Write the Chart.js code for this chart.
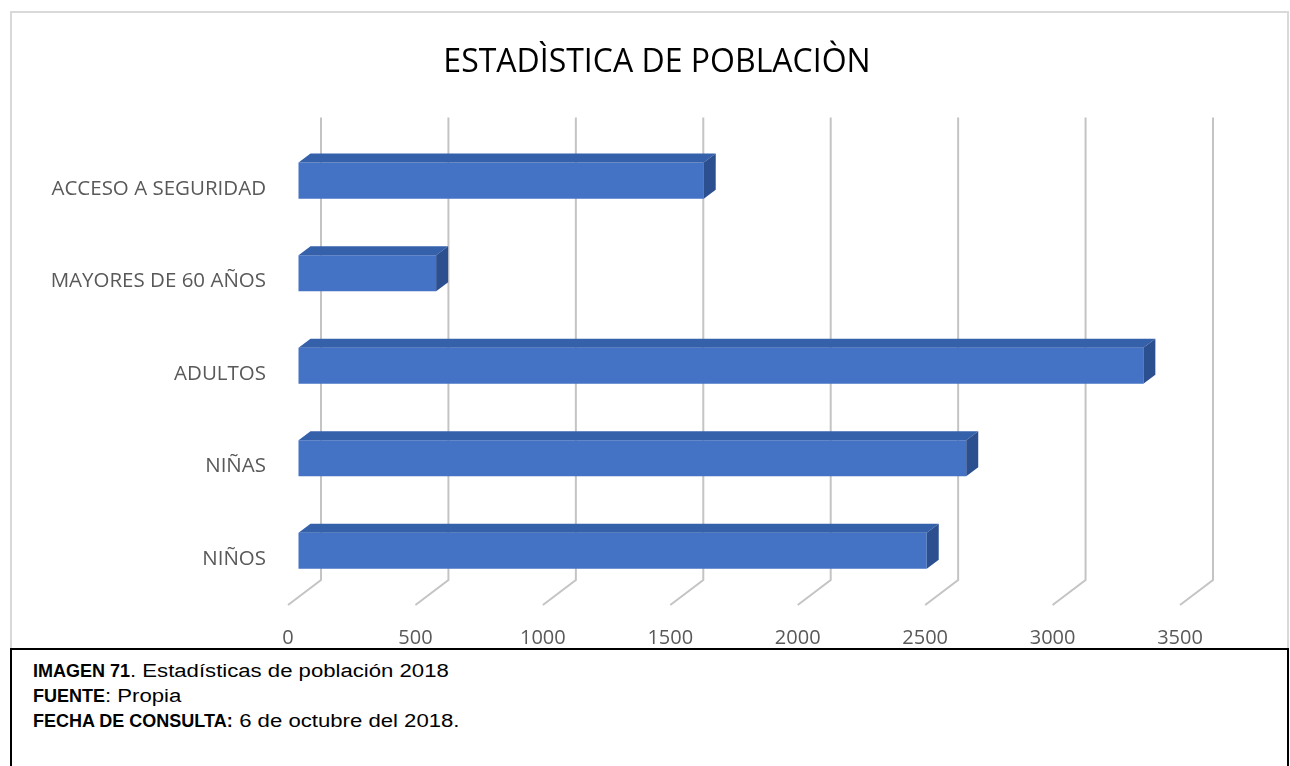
<!DOCTYPE html>
<html>
<head>
<meta charset="utf-8">
<title>Estadistica de poblacion</title>
<script src="https://cdn.jsdelivr.net/npm/chart.js@4.4.0/dist/chart.umd.min.js"></script>
<style>
    body { margin: 0; background: #ffffff; width: 1290px; height: 766px; overflow: hidden; position: relative; }
    #chartWrap { position: absolute; left: 0; top: 0; width: 1290px; height: 650px; }
    #chartFrame { position: absolute; left: 10px; top: 11px; width: 1279px; height: 639px; box-sizing: border-box; border: 2px solid #d9d9d9; pointer-events: none; }
    #caption { position: absolute; left: 10px; top: 648px; width: 1279px; height: 140px; box-sizing: border-box; border: 2px solid #000000; background: #fff;
        font-family: "Liberation Sans", Arial, sans-serif; font-size: 18px; color: #000; padding: 9px 0 0 21px; line-height: 25px; }
    #caption div { white-space: nowrap; }
    #caption span { display: inline-block; transform: scaleX(1.23); transform-origin: left center; white-space: pre; }
</style>
</head>
<body>
<div id="chartWrap"><canvas id="myChart"></canvas></div>
<div id="chartFrame"></div>
<div id="caption">
    <div><b>IMAGEN 71</b><span>. Estadísticas de población 2018</span></div>
    <div><b>FUENTE</b><span>: Propia</span></div>
    <div><b>FECHA DE CONSULTA:</b><span> 6 de octubre del 2018.</span></div>
</div>

<script>
// Chart data
var categories = ["ACCESO A SEGURIDAD", "MAYORES DE 60 AÑOS", "ADULTOS", "NIÑAS", "NIÑOS"];
var poblacion = [1590, 540, 3315, 2620, 2465];
var xTicks = [0, 500, 1000, 1500, 2000, 2500, 3000, 3500];

// 3D depth of the plot (back wall offset) and of the bars
var wallDepth = { x: 33, y: -25 };
var barShift = { x: 10.5, y: -8 };
var barDepth = { x: 12, y: -9 };

// Back wall gridlines that bend to the floor
var wallGrid = {
    id: 'wallGrid',
    beforeDatasetsDraw: function (chart) {
        var ctx = chart.ctx;
        var area = chart.chartArea;
        var xScale = chart.scales.x;
        ctx.save();
        ctx.strokeStyle = '#c4c4c4';
        ctx.lineWidth = 2;
        xTicks.forEach(function (v) {
            var px = xScale.getPixelForValue(v);
            ctx.beginPath();
            ctx.moveTo(px + wallDepth.x, area.top + wallDepth.y);
            ctx.lineTo(px + wallDepth.x, area.bottom + wallDepth.y);
            ctx.lineTo(px, area.bottom);
            ctx.stroke();
        });
        ctx.restore();
        // push the bars back to their depth
        ctx.save();
        ctx.translate(barShift.x, barShift.y);
    },
    afterDatasetsDraw: function (chart) {
        var ctx = chart.ctx;
        var meta = chart.getDatasetMeta(0);
        meta.data.forEach(function (bar) {
            var p = bar.getProps(['x', 'y', 'base', 'height'], true);
            var top = p.y - p.height / 2;
            var bottom = p.y + p.height / 2;
            // top face
            ctx.fillStyle = '#3561ab';
            ctx.beginPath();
            ctx.moveTo(p.base, top);
            ctx.lineTo(p.x, top);
            ctx.lineTo(p.x + barDepth.x, top + barDepth.y);
            ctx.lineTo(p.base + barDepth.x, top + barDepth.y);
            ctx.closePath();
            ctx.fill();
            // right face
            ctx.fillStyle = '#2c4f90';
            ctx.beginPath();
            ctx.moveTo(p.x, top);
            ctx.lineTo(p.x + barDepth.x, top + barDepth.y);
            ctx.lineTo(p.x + barDepth.x, bottom + barDepth.y);
            ctx.lineTo(p.x, bottom);
            ctx.closePath();
            ctx.fill();
        });
        ctx.restore();
    }
};

var chartConfig = {
    type: 'bar',
    data: {
        labels: categories,
        datasets: [{
            label: 'Población',
            data: poblacion,
            backgroundColor: '#4472c4',
            borderWidth: 0,
            barPercentage: 0.39,
            categoryPercentage: 1,
            clip: false
        }]
    },
    plugins: [wallGrid],
    options: {
        indexAxis: 'y',
        responsive: true,
        maintainAspectRatio: false,
        animation: false,
        layout: {
            padding: { left: 24, right: 0, top: 0, bottom: 0 }
        },
        plugins: {
            legend: { display: false },
            tooltip: { enabled: false },
            title: {
                display: true,
                text: 'ESTADÌSTICA DE POBLACIÒN',
                color: '#000000',
                font: { family: 'Open Sans', size: 32, weight: 'normal', lineHeight: 1.2 },
                padding: { top: 44, bottom: 60 }
            }
        },
        scales: {
            x: {
                min: 0,
                max: 3500,
                grid: { display: false, drawTicks: false },
                border: { display: false },
                afterBuildTicks: function (axis) {
                    axis.ticks = xTicks.map(function (v) { return { value: v }; });
                },
                afterFit: function (axis) { axis.height = 45; },
                ticks: {
                    padding: 21,
                    color: '#595959',
                    font: { family: 'Open Sans', size: 20 },
                    callback: function (value) { return String(value); }
                }
            },
            y: {
                grid: { display: false, drawTicks: false },
                border: { display: false },
                afterFit: function (axis) { axis.width = 264; },
                ticks: {
                    padding: 22,
                    color: '#595959',
                    font: { family: 'Open Sans', size: 20.5 }
                }
            },
            spacer: {
                type: 'linear',
                position: 'right',
                axis: 'y',
                grid: { display: false, drawTicks: false },
                border: { display: false },
                ticks: { display: false },
                afterFit: function (axis) { axis.width = 110; }
            }
        }
    }
};

var myChart = new Chart(document.getElementById('myChart'), chartConfig);
</script>
</body>
</html>
